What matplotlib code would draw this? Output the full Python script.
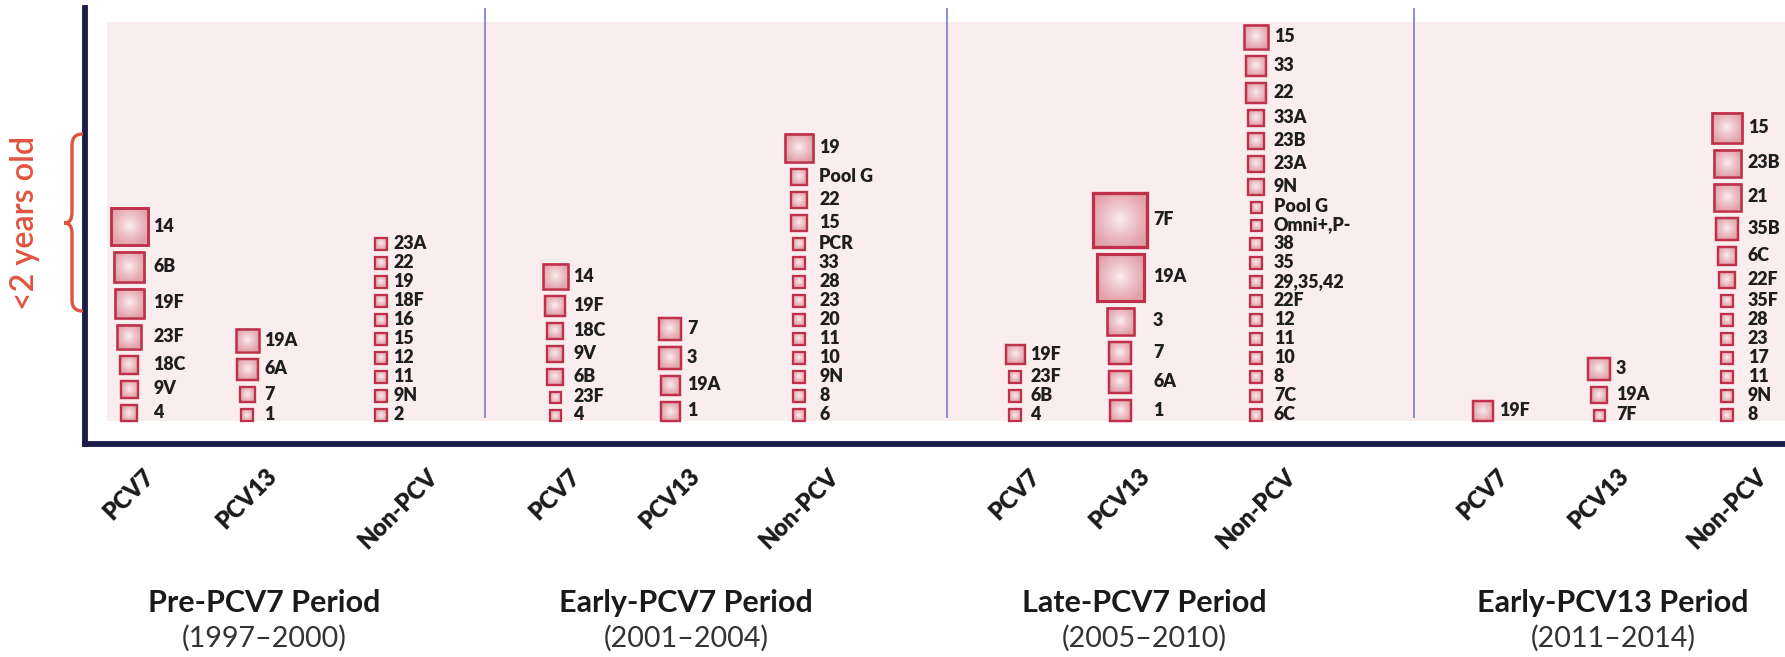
import numpy as np
import matplotlib
matplotlib.use("Agg")
import matplotlib.pyplot as plt
from matplotlib.patches import Rectangle, PathPatch
from matplotlib.path import Path
from matplotlib.transforms import Affine2D

plt.rcParams['font.family'] = ['Lato', 'DejaVu Sans']

# ---------------- data ----------------
periods = ["Pre-PCV7 Period", "Early-PCV7 Period", "Late-PCV7 Period", "Early-PCV13 Period"]
period_years = ["(1997\u20132000)", "(2001\u20132004)", "(2005\u20132010)", "(2011\u20132014)"]
groups = ["PCV7", "PCV13", "Non-PCV"]

# serotypes listed top to bottom, with relative square size
pre_pcv7 = ["14", "6B", "19F", "23F", "18C", "9V", "4"]
pre_pcv7_size = [37, 30, 29, 24, 18, 17, 16]
pre_pcv13 = ["19A", "6A", "7", "1"]
pre_pcv13_size = [23, 21, 15, 12]
pre_non = ["23A", "22", "19", "18F", "16", "15", "12", "11", "9N", "2"]
pre_non_size = [12, 12, 12, 12, 12, 12, 12, 12, 12, 12]

early_pcv7 = ["14", "19F", "18C", "9V", "6B", "23F", "4"]
early_pcv7_size = [25, 20, 16, 16, 16, 11, 11]
early_pcv13 = ["7", "3", "19A", "1"]
early_pcv13_size = [22, 22, 19, 19]
early_non = ["19", "Pool G", "22", "15", "PCR", "33", "28", "23", "20", "11", "10", "9N", "8", "6"]
early_non_size = [28, 16, 16, 16, 12, 12, 12, 12, 12, 12, 12, 12, 12, 12]

late_pcv7 = ["19F", "23F", "6B", "4"]
late_pcv7_size = [19, 12, 12, 12]
late_pcv13 = ["7F", "19A", "3", "7", "6A", "1"]
late_pcv13_size = [54, 47, 27, 22, 22, 21]
late_non = ["15", "33", "22", "33A", "23B", "23A", "9N", "Pool G", "Omni+,P-", "38", "35",
            "29,35,42", "22F", "12", "11", "10", "8", "7C", "6C"]
late_non_size = [24, 20, 20, 16, 16, 16, 16, 11, 11, 12, 12, 12, 12, 12, 12, 12, 12, 12, 12]

e13_pcv7 = ["19F"]
e13_pcv7_size = [20]
e13_pcv13 = ["3", "19A", "7F"]
e13_pcv13_size = [22, 16, 11]
e13_non = ["15", "23B", "21", "35B", "6C", "22F", "35F", "28", "23", "17", "11", "9N", "8"]
e13_non_size = [30, 27, 27, 22, 18, 16, 12, 12, 12, 12, 12, 12, 12]

columns = [
    [(pre_pcv7, pre_pcv7_size), (pre_pcv13, pre_pcv13_size), (pre_non, pre_non_size)],
    [(early_pcv7, early_pcv7_size), (early_pcv13, early_pcv13_size), (early_non, early_non_size)],
    [(late_pcv7, late_pcv7_size), (late_pcv13, late_pcv13_size), (late_non, late_non_size)],
    [(e13_pcv7, e13_pcv7_size), (e13_pcv13, e13_pcv13_size), (e13_non, e13_non_size)],
]

# ---------------- layout ----------------
W, H, DPI = 1785, 657, 100
col_x = [[129, 247, 381], [555, 670, 799], [1015, 1120, 1256], [1483, 1599, 1727]]
tick_shift = [[0, 0, 17], [0, 0, 0], [0, 0, 0], [0, 0, 0]]
sep_x = [485, 947, 1414]
title_x = [264, 686, 1144, 1613]
AX_LEFT, AX_BOTTOM_PX, AX_TOP_PX = 84.5, 443.5, 8
BASE = 23.0
GAP = 7.0

fig = plt.figure(figsize=(W / DPI, H / DPI), dpi=DPI)
ax = fig.add_axes([AX_LEFT / W, 1 - AX_BOTTOM_PX / H, 1 - AX_LEFT / W,
                   (AX_BOTTOM_PX - AX_TOP_PX) / H])
ymax = AX_BOTTOM_PX - AX_TOP_PX

ax.add_patch(Rectangle((107, BASE - 0.5), W - 107, (AX_BOTTOM_PX - 22) - BASE + 0.5,
                       facecolor='#f9eded', edgecolor='none', zorder=0))
for sx in sep_x:
    ax.plot([sx, sx], [AX_BOTTOM_PX - 418, ymax], color='#8c8cd2', lw=1.4, zorder=1,
            solid_capstyle='butt')

n = 64
g = np.linspace(-1, 1, n)
xx, yy = np.meshgrid(g, g)
r = np.clip(np.sqrt(xx ** 2 + yy ** 2) / 1.15, 0, 1) ** 0.8
c_in = np.array([253, 243, 243]) / 255.0
c_out = np.array([225, 160, 168]) / 255.0
grad = c_in[None, None, :] * (1 - r[..., None]) + c_out[None, None, :] * r[..., None]

sq_labels = []
for p, cols in enumerate(columns):
    for j, (names, sizes) in enumerate(cols):
        cx = col_x[p][j]
        label_x = cx + max(sizes) / 2.0 + 6
        y = BASE
        for name, s in zip(names[::-1], sizes[::-1]):
            x0 = cx - s / 2.0
            ax.imshow(grad, extent=(x0, x0 + s, y, y + s), origin='lower', aspect='auto',
                      interpolation='bilinear', zorder=3)
            ax.add_patch(Rectangle((x0, y), s, s, fill=False, edgecolor='#bf3049',
                                   lw=1.4 + s * 0.018, zorder=4, joinstyle='miter'))
            t = ax.text(label_x, y + s / 2.0, name, ha='left', va='center', fontsize=12.5,
                        fontweight='heavy', color='#1e1e1e', zorder=5)
            sq_labels.append(t)
            y += s + GAP

ax.set_xlim(AX_LEFT, W)
ax.set_ylim(0, ymax)
ax.set_aspect('auto')

for side in ['top', 'right']:
    ax.spines[side].set_visible(False)
for side in ['left', 'bottom']:
    ax.spines[side].set_color('#1c1c4a')
    ax.spines[side].set_linewidth(4.2)
    ax.spines[side].set_capstyle('projecting')
ax.set_yticks([])

ticks, tlabels = [], []
for p in range(4):
    for j in range(3):
        ticks.append(col_x[p][j] + tick_shift[p][j])
        tlabels.append(groups[j])
ax.set_xticks(ticks)
ax.set_xticklabels(tlabels, rotation=45, ha='center', fontsize=16, fontweight='heavy',
                   color='#1a1a1a')
ax.tick_params(axis='x', length=0, pad=15)

titles, years = [], []
for p in range(4):
    titles.append(fig.text(title_x[p] / W, 1 - 612 / H, periods[p], ha='center',
                           va='baseline', fontsize=20, fontweight='bold', color='#1a1a1a'))
    years.append(fig.text(title_x[p] / W, 1 - 647 / H, period_years[p], ha='center',
                          va='baseline', fontsize=18, color='#333333'))

age = fig.text(25 / W, 1 - 223 / H, "<2 years old", rotation=90, ha='center', va='center',
               fontsize=22, fontweight='semibold', color='#e0553f')

pix = Affine2D().scale(1, -1).translate(0, H)
verts = [(83, 134), (75, 134), (72, 138), (72, 146),
         (72, 212),
         (72, 219), (70, 223), (64, 223),
         (70, 223), (72, 227), (72, 234),
         (72, 300),
         (72, 307), (75, 311), (83, 311)]
codes = [Path.MOVETO, Path.CURVE4, Path.CURVE4, Path.CURVE4,
         Path.LINETO,
         Path.CURVE4, Path.CURVE4, Path.CURVE4,
         Path.CURVE4, Path.CURVE4, Path.CURVE4,
         Path.LINETO,
         Path.CURVE4, Path.CURVE4, Path.CURVE4]
fig.patches.append(PathPatch(Path(verts, codes), transform=pix, fill=False,
                             edgecolor='#dc553f', lw=2.4, figure=fig))

# ---- fit text sizes to the reference's measured extents ----
fig.canvas.draw()
rend = fig.canvas.get_renderer()


def fit(texts, ref, target, dim):
    bb = ref.get_window_extent(rend)
    cur = bb.width if dim == 'w' else bb.height
    f = target / cur
    for t in texts:
        t.set_fontsize(t.get_fontsize() * f)


fit(titles, titles[0], 233, 'w')
fit(years, years[0], 165, 'w')
fit([age], age, 173, 'h')
pool = [t for t in sq_labels if t.get_text() == "Pool G"][0]
fit(sq_labels, pool, 54, 'w')
xtl = ax.get_xticklabels()
fit(xtl, xtl[5], 88, 'w')
fig.canvas.draw()
# place tick label tops ~465 px from the top of the image
top = max(t.get_window_extent(rend).y1 for t in ax.get_xticklabels())
target_top = H - 465
ax.tick_params(axis='x', pad=15 + (top - target_top) * 72 / DPI)

fig.savefig("out.png", dpi=DPI, facecolor='white')
